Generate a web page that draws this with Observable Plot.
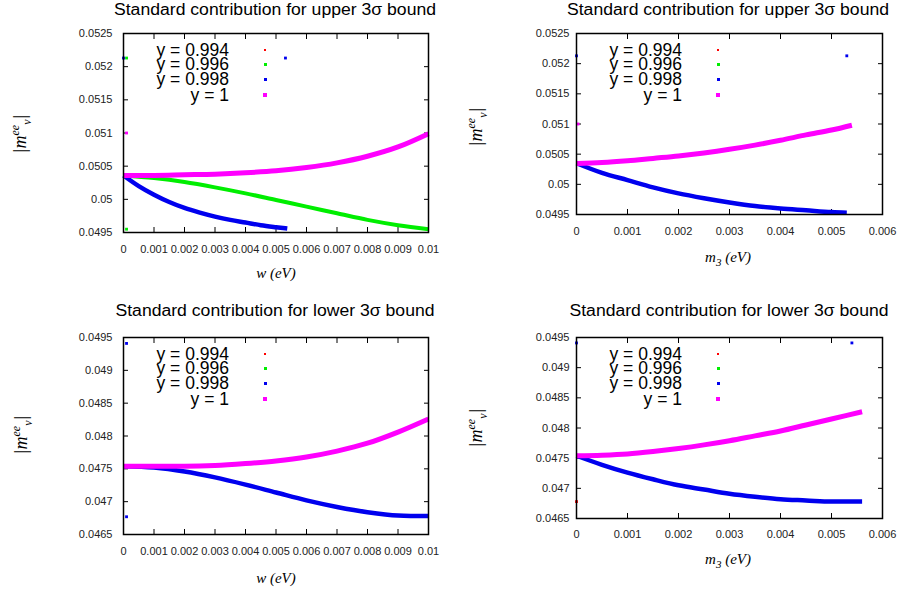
<!DOCTYPE html>
<html><head><meta charset="utf-8">
<script src="https://cdn.jsdelivr.net/npm/d3@7"></script>
<script src="https://cdn.jsdelivr.net/npm/@observablehq/plot@0.6"></script>
<style>
body{margin:0;background:#fff;}
#wrap{position:relative;width:900px;height:590px;overflow:hidden;background:#fff;font-family:"Liberation Sans",Arial,sans-serif;color:#000;}
.panel{position:absolute;}
.title{position:absolute;white-space:nowrap;font-size:16px;transform:translate(-50%,-50%) scaleX(1.1);}
.xlab{position:absolute;white-space:nowrap;font-family:"Liberation Serif","Times New Roman",serif;font-style:italic;font-size:15px;transform:translate(-50%,-50%);}
.ylab{position:absolute;white-space:nowrap;font-family:"Liberation Serif","Times New Roman",serif;font-style:italic;font-size:18px;line-height:1;transform:translate(-50%,-50%) rotate(-90deg);}
.ylab sup,.ylab sub{font-size:12px;}
.xlab sub{font-size:11px;}
.legt{position:absolute;white-space:nowrap;font-size:17.5px;line-height:13px;height:13px;transform:translate(-100%,-50%);}
.legm{position:absolute;}
</style></head>
<body><div id="wrap"></div>
<script>
// ---------- data ----------
const xTicksW = [0, 0.001, 0.002, 0.003, 0.004, 0.005, 0.006, 0.007, 0.008, 0.009, 0.01];
const xTicksM3 = [0, 0.001, 0.002, 0.003, 0.004, 0.005, 0.006];
const yTicksUpper = [0.0495, 0.05, 0.0505, 0.051, 0.0515, 0.052, 0.0525];
const yTicksLower = [0.0465, 0.047, 0.0475, 0.048, 0.0485, 0.049, 0.0495];
const legendLabels = ["y = 0.994", "y = 0.996", "y = 0.998", "y = 1"];
const titles = ["Standard contribution for upper 3\u03c3 bound", "Standard contribution for upper 3\u03c3 bound",
                "Standard contribution for lower 3\u03c3 bound", "Standard contribution for lower 3\u03c3 bound"];

// upper bound vs w
const upW_x = [0, 0.001, 0.002, 0.003, 0.004, 0.005, 0.006, 0.007, 0.008, 0.009, 0.01];
const upW_y1 = [0.05036, 0.05036, 0.05037, 0.05038, 0.05040, 0.05043, 0.05048, 0.05055, 0.05065, 0.05079, 0.05099];
const upW_y0996 = [0.05036, 0.05032, 0.05026, 0.05018, 0.05009, 0.04999, 0.04989, 0.04979, 0.04969, 0.04961, 0.04955];
const upW_x0998 = [0, 0.0005, 0.001, 0.0015, 0.002, 0.0025, 0.003, 0.0035, 0.004, 0.0045, 0.005, 0.00537];
const upW_y0998 = [0.05036, 0.05020, 0.05007, 0.04996, 0.04987, 0.04980, 0.04974, 0.04969, 0.04965, 0.04961, 0.04958, 0.04956];
const upW_stray_x = [0, 0.0001, 0.00531, 0.0001, 0.0001];
const upW_stray_y = [0.05213, 0.05213, 0.05213, 0.04955, 0.0510];
const upW_stray_s = ["y = 0.998", "y = 0.996", "y = 0.998", "y = 0.996", "y = 1"];

// upper bound vs m3
const upM_x1 = [0, 0.0005, 0.001, 0.0015, 0.002, 0.0025, 0.003, 0.0035, 0.004, 0.0045, 0.005, 0.0054];
const upM_y1 = [0.050345, 0.05036, 0.05039, 0.05043, 0.05047, 0.05052, 0.05058, 0.05065, 0.05073, 0.05082, 0.05090, 0.05098];
const upM_x0998 = [0, 0.0005, 0.001, 0.0015, 0.002, 0.0025, 0.003, 0.0035, 0.004, 0.0045, 0.005, 0.0053];
const upM_y0998 = [0.05035, 0.05019, 0.05007, 0.04995, 0.04985, 0.04977, 0.04970, 0.04964, 0.04960, 0.04957, 0.04954, 0.04953];
const upM_stray_x = [0, 0.0053, 0.00003];
const upM_stray_y = [0.05213, 0.05213, 0.0510];
const upM_stray_s = ["y = 0.998", "y = 0.998", "y = 1"];

// lower bound vs w
const loW_x = [0, 0.001, 0.002, 0.003, 0.004, 0.005, 0.006, 0.007, 0.008, 0.009, 0.01];
const loW_y1 = [0.04754, 0.04754, 0.04754, 0.04755, 0.04758, 0.04762, 0.04768, 0.04777, 0.04789, 0.04806, 0.04826];
const loW_y0998 = [0.04754, 0.04752, 0.04746, 0.04737, 0.04726, 0.04714, 0.04702, 0.04692, 0.04684, 0.04679, 0.04678];
const loW_stray_x = [0.0001, 0.0001];
const loW_stray_y = [0.04941, 0.04677];
const loW_stray_s = ["y = 0.998", "y = 0.998"];

// lower bound vs m3
const loM_x1 = [0, 0.0005, 0.001, 0.0015, 0.002, 0.0025, 0.003, 0.0035, 0.004, 0.0045, 0.005, 0.0056];
const loM_y1 = [0.04754, 0.04755, 0.04757, 0.04761, 0.04766, 0.04772, 0.04779, 0.04787, 0.04795, 0.04805, 0.04815, 0.04827];
const loM_x0998 = [0, 0.0005, 0.001, 0.0015, 0.002, 0.0025, 0.003, 0.0035, 0.004, 0.0045, 0.005, 0.0056];
const loM_y0998 = [0.04754, 0.04739, 0.04726, 0.04715, 0.04705, 0.04698, 0.04691, 0.04686, 0.04682, 0.04680, 0.04678, 0.04678];
const loM_stray_x = [0, 0.0054, 0];
const loM_stray_y = [0.04941, 0.04941, 0.04678];
const loM_stray_s = ["y = 0.998", "y = 0.998", "y = 0.994"];

// ---------- styles ----------
const colorOf = {"y = 0.994": "#ff0000", "y = 0.996": "#00ee00", "y = 0.998": "#0000ee", "y = 1": "#ff00ff"};
const widthOf = {"y = 0.994": 4, "y = 0.996": 4, "y = 0.998": 4.5, "y = 1": 5};

const rows = (xs, ys, s) => xs.map((x, i) => ({x, y: ys[i], s}));
const strayRows = (xs, ys, ss) => xs.map((x, i) => ({x, y: ys[i], s: ss[i]}));

const wrap = document.getElementById("wrap");

const panels = [
  {left: 0, top: 0, h: 290, mt: 33, mb: 58, ml: 123, mr: 22, xPad: 18, yPad: 16,
   xDomain: [0, 0.01], yDomain: [0.0495, 0.0525], xTicks: xTicksW, yTicks: yTicksUpper,
   lines: [rows(upW_x, upW_y0996, "y = 0.996"), rows(upW_x0998, upW_y0998, "y = 0.998"), rows(upW_x, upW_y1, "y = 1")],
   strays: strayRows(upW_stray_x, upW_stray_y, upW_stray_s),
   title: titles[0], tx: 275, ty: 10, xlab: "w (eV)", xlx: 276, xly: 273, ylx: 21, yly: 134, legX: 229, legY: 33},
  {left: 450, top: 0, h: 290, mt: 33, mb: 76, ml: 126, mr: 18, xPad: 18, yPad: 12,
   xDomain: [0, 0.006], yDomain: [0.0495, 0.0525], xTicks: xTicksM3, yTicks: yTicksUpper,
   lines: [rows(upM_x0998, upM_y0998, "y = 0.998"), rows(upM_x1, upM_y1, "y = 1")],
   strays: strayRows(upM_stray_x, upM_stray_y, upM_stray_s),
   title: titles[1], tx: 728, ty: 10, xlab: "m<sub>3</sub> (eV)", xlx: 728, xly: 258, ylx: 477, yly: 127, legX: 682, legY: 33},
  {left: 0, top: 295, h: 295, mt: 42, mb: 56, ml: 123, mr: 22, xPad: 18, yPad: 16,
   xDomain: [0, 0.01], yDomain: [0.0465, 0.0495], xTicks: xTicksW, yTicks: yTicksLower,
   lines: [rows(loW_x, loW_y0998, "y = 0.998"), rows(loW_x, loW_y1, "y = 1")],
   strays: strayRows(loW_stray_x, loW_stray_y, loW_stray_s),
   title: titles[2], tx: 275, ty: 311, xlab: "w (eV)", xlx: 276, xly: 578, ylx: 22, yly: 435, legX: 229, legY: 337},
  {left: 450, top: 295, h: 295, mt: 42, mb: 72, ml: 126, mr: 18, xPad: 17, yPad: 12,
   xDomain: [0, 0.006], yDomain: [0.0465, 0.0495], xTicks: xTicksM3, yTicks: yTicksLower,
   lines: [rows(loM_x0998, loM_y0998, "y = 0.998"), rows(loM_x1, loM_y1, "y = 1")],
   strays: strayRows(loM_stray_x, loM_stray_y, loM_stray_s),
   title: titles[3], tx: 729, ty: 311, xlab: "m<sub>3</sub> (eV)", xlx: 728, xly: 560, ylx: 477, yly: 428, legX: 682, legY: 337}
];

function add(tag, cls, html, style) {
  const el = document.createElement(tag);
  el.className = cls;
  el.innerHTML = html;
  Object.assign(el.style, style);
  wrap.appendChild(el);
  return el;
}

const legendRowDy = [16.5, 31, 46, 61.5];
const legendMarkerSize = [2, 3, 3, 4];

for (const p of panels) {
  const fmt = d => String(d);
  const blank = () => "";
  const lineMarks = p.lines.map(data => Plot.line(data, {
    x: "x", y: "y", stroke: colorOf[data[0].s], strokeWidth: widthOf[data[0].s],
    curve: "monotone-x", strokeLinecap: "butt"
  }));
  const chart = Plot.plot({
    width: 450, height: p.h,
    marginTop: p.mt, marginBottom: p.mb, marginLeft: p.ml, marginRight: p.mr,
    x: {domain: p.xDomain},
    y: {domain: p.yDomain},
    style: {fontFamily: '"Liberation Sans", Arial, sans-serif', fontSize: "11px", color: "#000", background: "transparent"},
    marks: [
      Plot.axisX({ticks: p.xTicks, anchor: "bottom", tickSize: -5, tickPadding: p.xPad, tickFormat: fmt, label: null, fill: "#222"}),
      Plot.axisX({ticks: p.xTicks, anchor: "top", tickSize: -5, tickFormat: blank, label: null}),
      Plot.axisY({ticks: p.yTicks, anchor: "left", tickSize: -5, tickPadding: p.yPad, tickFormat: fmt, label: null, fill: "#222"}),
      Plot.axisY({ticks: p.yTicks, anchor: "right", tickSize: -5, tickFormat: blank, label: null}),
      ...lineMarks,
      Plot.dot(p.strays, {x: "x", y: "y", fill: d => colorOf[d.s], r: 1.6, symbol: "square"}),
      Plot.frame({stroke: "#000", strokeWidth: 1.5})
    ]
  });
  chart.classList.add("panel");
  chart.style.left = p.left + "px";
  chart.style.top = p.top + "px";
  wrap.appendChild(chart);

  add("div", "title", p.title, {left: p.tx + "px", top: p.ty + "px"});
  add("div", "xlab", p.xlab, {left: p.xlx + "px", top: p.xly + "px"});
  add("div", "ylab", "|m<sup>ee</sup><sub>\u03bd</sub>|", {left: p.ylx + "px", top: p.yly + "px"});

  legendLabels.forEach((lab, i) => {
    const cy = p.legY + legendRowDy[i];
    add("div", "legt", lab, {left: p.legX + "px", top: cy + "px"});
    const sz = legendMarkerSize[i];
    add("div", "legm", "", {left: (p.legX + 36 - sz / 2) + "px", top: (cy - sz / 2) + "px",
      width: sz + "px", height: sz + "px", background: colorOf[lab]});
  });
}
</script>
</body></html>
